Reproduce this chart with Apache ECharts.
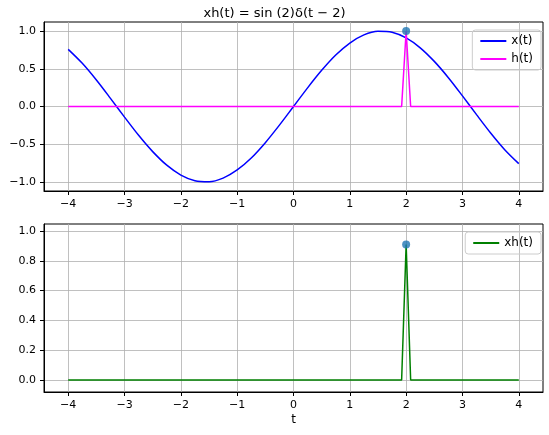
<!DOCTYPE html><html><head><meta charset="utf-8">
<script src="https://cdn.jsdelivr.net/npm/echarts@6/dist/echarts.min.js"></script>
<style>html,body{margin:0;background:#fff}#c{width:549px;height:435px}</style></head><body><div id="c"></div>
<script>
const tX=[-4,-3.75,-3.5,-3.25,-3,-2.75,-2.5,-2.25,-2,-1.75,-1.5,-1.25,-1,-0.75,-0.5,-0.25,0,0.25,0.5,0.75,1,1.25,1.5,1.75,2,2.25,2.5,2.75,3,3.25,3.5,3.75,4];
const xVals=[0.757,0.572,0.351,0.108,-0.141,-0.382,-0.598,-0.778,-0.909,-0.984,-0.997,-0.949,-0.841,-0.682,-0.479,-0.247,0,0.247,0.479,0.682,0.841,0.949,0.997,0.984,0.909,0.778,0.598,0.382,0.141,-0.108,-0.351,-0.572,-0.757];
const tH=[-4,1.92,2,2.08,4];
const hVals=[0,0,1,0,0];
const xhVals=[0,0,0.909,0,0];
const topPoint=[2,1];
const botPoint=[2,0.909];
const xTicks=[-4,-3,-2,-1,0,1,2,3,4];
const yTicksTop=[-1,-0.5,0,0.5,1];
const yTicksBot=[0,0.2,0.4,0.6,0.8,1];
const font='DejaVu Sans';
const neg=v=>v<0?'\u2212'+(-v):String(v);
function ax(type,g,min,max,ticks,fmt,extra){
 return Object.assign({type:'value',gridIndex:g,min:min,max:max,
  axisLine:{onZero:false,lineStyle:{color:'#000'}},
  axisTick:{inside:false,length:4,lineStyle:{color:'#000'},customValues:ticks},
  axisLabel:{color:'#000',fontSize:11,fontFamily:font,customValues:ticks,formatter:fmt},
  splitLine:{show:true,lineStyle:{color:'#b0b0b0',width:0.8}}},extra||{});
}
const chart=echarts.init(document.getElementById('c'));
chart.setOption({
 animation:false,
 title:{text:'xh(t) = sin (2)δ(t − 2)',left:'center',top:2,textStyle:{fontFamily:font,fontSize:13,fontWeight:'normal',color:'#000'}},
 grid:[{left:44,right:6,top:22,height:169,show:true,borderColor:'#000'},{left:44,right:6,top:224,height:168,show:true,borderColor:'#000'}],
 xAxis:[ax('x',0,-4.43,4.43,xTicks,v=>neg(Math.round(v))),
        ax('x',1,-4.43,4.43,xTicks,v=>neg(Math.round(v)),{name:'t',nameLocation:'middle',nameGap:22,nameTextStyle:{color:'#000',fontFamily:font,fontSize:12}})],
 yAxis:[ax('y',0,-1.12,1.12,yTicksTop,v=>(v<0?'\u2212':'')+Math.abs(v).toFixed(1)),
        ax('y',1,-0.08,1.047,yTicksBot,v=>v.toFixed(1))],
 legend:[
  {data:['x(t)','h(t)'],right:8,top:30,orient:'vertical',borderColor:'#ccc',borderWidth:1,borderRadius:3,padding:[5,8],itemGap:6,itemWidth:26,itemHeight:2,textStyle:{fontFamily:font,fontSize:12,color:'#000'},icon:'rect'},
  {data:['xh(t)'],right:8,top:232,orient:'vertical',borderColor:'#ccc',borderWidth:1,borderRadius:3,padding:[5,8],itemWidth:26,itemHeight:2,textStyle:{fontFamily:font,fontSize:12,color:'#000'},icon:'rect'}
 ],
 series:[
  {name:'x(t)',type:'line',xAxisIndex:0,yAxisIndex:0,smooth:0.3,showSymbol:false,color:'#0000ff',lineStyle:{width:1.5},data:tX.map((t,i)=>[t,xVals[i]])},
  {name:'h(t)',type:'line',xAxisIndex:0,yAxisIndex:0,showSymbol:false,color:'#ff00ff',lineStyle:{width:1.5},data:tH.map((t,i)=>[t,hVals[i]])},
  {type:'scatter',xAxisIndex:0,yAxisIndex:0,symbolSize:8,color:'#1f77b4',data:[topPoint],z:5},
  {name:'xh(t)',type:'line',xAxisIndex:1,yAxisIndex:1,showSymbol:false,color:'#008000',lineStyle:{width:1.5},data:tH.map((t,i)=>[t,xhVals[i]])},
  {type:'scatter',xAxisIndex:1,yAxisIndex:1,symbolSize:8,color:'#1f77b4',data:[botPoint],z:5}
 ]
});
</script></body></html>
